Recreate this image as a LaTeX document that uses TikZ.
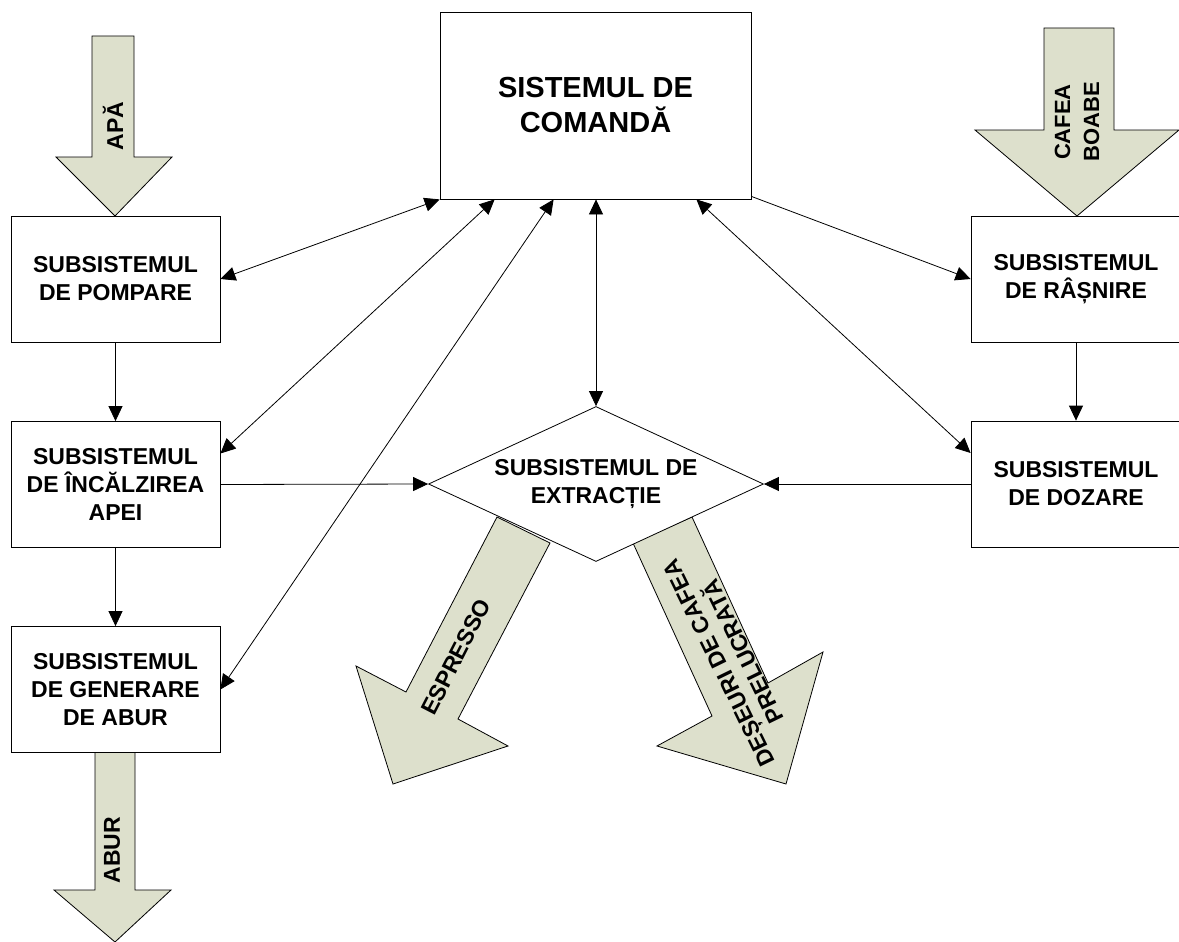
\documentclass[tikz,border=0pt]{standalone}
\usepackage{fontspec}
\setmainfont{Liberation Sans}
\usepackage{xcolor}
\usetikzlibrary{arrows.meta, shapes.geometric}

\definecolor{sage}{RGB}{221,224,204}

\begin{document}
\begin{tikzpicture}[x=1pt, y=-1pt,
        box/.style={draw, line width=0.8pt, fill=white, minimum width=209pt, minimum height=126pt, inner sep=0pt, align=center, font=\bfseries\fontsize{23}{28}\selectfont},
        link/.style={{Triangle[length=15pt, width=14pt]}-{Triangle[length=15pt, width=14pt]}, line width=0.8pt},
        feed/.style={-{Triangle[length=15pt, width=14pt]}, line width=0.8pt},
        bigarrow/.style={draw, fill=sage, line width=0.8pt, line join=miter},
        flowlabel/.style={font=\bfseries\fontsize{23}{27}\selectfont, align=center, inner sep=0pt}]
        \useasboundingbox (0,0) rectangle (1179,942);

        \draw[bigarrow] (92,36) -- (134,36) -- (134,157) -- (172,157) -- (115,216) -- (56,157) -- (92,157) -- cycle;
        \draw[bigarrow] (1044,28) -- (1114,28) -- (1114,130) -- (1179,130) -- (1077,216) -- (975,130) -- (1044,130) -- cycle;
        \draw[bigarrow] (95,752) -- (135,752) -- (135,890) -- (171,890) -- (115,942) -- (54,890) -- (95,890) -- cycle;
        \draw[bigarrow] (497,517) -- (550,543) -- (458,719) -- (508,746) -- (393,784) -- (356,666) -- (406,692) -- cycle;
        \draw[bigarrow] (633,543) -- (692,517) -- (768,683) -- (823,652) -- (786,784) -- (657,746) -- (712,716) -- cycle;

        \node[flowlabel, rotate=90] (apa) at (113,126) {APĂ};
        \node[flowlabel, rotate=90, font=\bfseries\fontsize{22}{29}\selectfont] (boabe) at (1077,122) {CAFEA\\BOABE};
        \node[flowlabel, rotate=90] (abur) at (112,850) {ABUR};
        \node[flowlabel, rotate=62.8] (espresso) at (456,657) {ESPRESSO};
        \node[flowlabel, rotate=116] (deseuri) at (731,657) {DEȘEURI DE CAFEA\\PRELUCRATĂ};

        \node[box, minimum width=311pt, minimum height=187pt, font=\bfseries\fontsize{29}{35}\selectfont] (cmd) at (595.5,105.5) {SISTEMUL DE\\COMANDĂ};
        \node[box] (pump) at (115.5,279) {SUBSISTEMUL\\DE POMPARE};
        \node[box] (heat) at (115.5,484.5) {SUBSISTEMUL\\DE ÎNCĂLZIREA\\APEI};
        \node[box] (steam) at (115.5,689.5) {SUBSISTEMUL\\DE GENERARE\\DE ABUR};
        \node[box, minimum width=210pt] (grind) at (1076,279) {SUBSISTEMUL\\DE RÂȘNIRE};
        \node[box, minimum width=210pt] (dose) at (1076,484) {SUBSISTEMUL\\DE DOZARE};
        \node[diamond, draw, line width=0.8pt, fill=white, minimum width=335pt, minimum height=155pt, inner sep=0pt] (extr) at (596,484) {};
        \node[flowlabel, font=\bfseries\fontsize{23}{28}\selectfont] (extrtext) at (extr.center) {SUBSISTEMUL DE\\EXTRACȚIE};

        \draw[link] (pump.east) -- (cmd.south west);
        \draw[link] ([yshift=31pt]heat.east) -- ([xshift=55pt]cmd.south west);
        \draw[link] (steam.east) -- ([xshift=114pt]cmd.south west);
        \draw[link] (extr.north) -- (extr.north |- cmd.south);
        \draw[link] ([yshift=31pt]dose.west) -- ([xshift=-55pt]cmd.south east);
        \draw[feed] ([yshift=3pt]cmd.south east) -- (grind.west);

        \draw[feed] (pump.south) -- (heat.north);
        \draw[feed] (heat.south) -- (steam.north);
        \draw[feed] (grind.south) -- (dose.north);
        \draw[feed] (heat.east) -- (extr.west);
        \draw[feed] (dose.west) -- (extr.east);
\end{tikzpicture}
\end{document}
